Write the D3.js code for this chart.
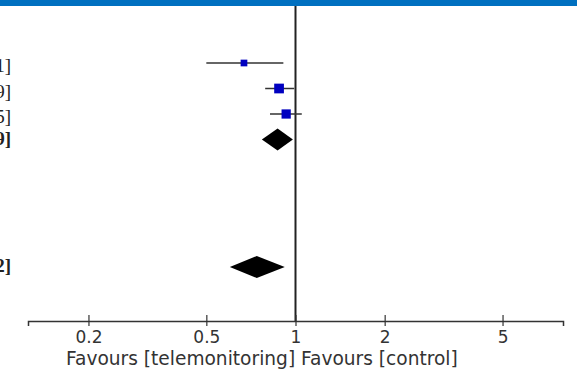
<!DOCTYPE html>
<html>
<head>
<meta charset="utf-8">
<script src="https://cdn.jsdelivr.net/npm/d3@7"></script>
<style>
  html, body { margin: 0; padding: 0; background: #fff; }
  svg { display: block; }
</style>
</head>
<body>
<svg id="chart" width="577" height="375"></svg>
<script>
// study rows (row index in the plot, odds ratio, CI, weight)
var studyRows = [0, 1, 2];
var studyOR = [0.67, 0.88, 0.93];
var studyLo = [0.50, 0.79, 0.82];
var studyHi = [0.91, 0.99, 1.05];
var studyWeight = [20, 42, 38];
var studyText = ["0.67 [0.50, 0.91]", "0.88 [0.79, 0.99]", "0.93 [0.82, 1.05]"];

// pooled estimates (diamonds)
var totalRows = [3, 8];
var totalOR = [0.87, 0.74];
var totalLo = [0.77, 0.60];
var totalHi = [0.98, 0.92];
var totalText = ["0.87 [0.77, 0.99]", "0.74 [0.60, 0.92]"];

var tickValues = [0.2, 0.5, 1, 2, 5];
var favourText = "Favours [telemonitoring] Favours [control]";

var svg = d3.select("#chart");

var x = d3.scaleLog().domain([0.125, 8]).range([28, 563]);
var y = d3.scaleLinear().domain([0, 8]).range([63, 267]);
var size = d3.scaleSqrt().domain([0, 100]).range([0, 15]);
var axisY = 321;

// header strip
svg.append("rect")
    .attr("x", 0).attr("y", 0)
    .attr("width", 577).attr("height", 6)
    .attr("fill", "#0070c0");

// line of no effect
svg.append("line")
    .attr("x1", x(1)).attr("x2", x(1))
    .attr("y1", 6).attr("y2", axisY)
    .attr("stroke", "#222")
    .attr("stroke-width", 2);

// CI text (mostly cut off at the left edge, as in the source)
var labels = svg.append("g")
    .attr("font-family", "Liberation Serif, serif")
    .attr("font-size", 19)
    .attr("fill", "#222")
    .attr("text-anchor", "end");

studyRows.forEach(function(r, i) {
  labels.append("text")
      .attr("x", 11).attr("y", y(r) + 9)
      .text(studyText[i]);
});
totalRows.forEach(function(r, i) {
  labels.append("text")
      .attr("x", 11).attr("y", y(r) + 5)
      .attr("font-weight", "bold")
      .text(totalText[i]);
});

// study CIs and squares
var studies = svg.append("g");
studyRows.forEach(function(r, i) {
  studies.append("line")
      .attr("x1", x(studyLo[i])).attr("x2", x(studyHi[i]))
      .attr("y1", y(r)).attr("y2", y(r))
      .attr("stroke", "#333")
      .attr("stroke-width", 1.5);
  var s = size(studyWeight[i]);
  studies.append("rect")
      .attr("x", x(studyOR[i]) - s / 2)
      .attr("y", y(r) - s / 2)
      .attr("width", s).attr("height", s)
      .attr("fill", "#0000c0");
});

// pooled diamonds
totalRows.forEach(function(r, i) {
  var cy = y(r), h = 11;
  svg.append("path")
      .attr("d", "M" + x(totalLo[i]) + "," + cy +
                 "L" + x(totalOR[i]) + "," + (cy - h) +
                 "L" + x(totalHi[i]) + "," + cy +
                 "L" + x(totalOR[i]) + "," + (cy + h) + "Z")
      .attr("fill", "#000");
});

// axis
var axis = svg.append("g")
    .attr("transform", "translate(0," + axisY + ")")
    .call(d3.axisBottom(x)
        .tickValues(tickValues)
        .tickFormat(d3.format("~g"))
        .tickSizeOuter(0)
        .tickSize(5)
        .tickPadding(5));

axis.select(".domain").attr("stroke", "#333").attr("stroke-width", 1.5);
axis.selectAll(".tick line")
    .attr("y1", -6).attr("y2", 5)
    .attr("stroke", "#333").attr("stroke-width", 1.2);
axis.selectAll(".tick text")
    .attr("font-family", "DejaVu Sans, sans-serif")
    .attr("font-size", 17)
    .attr("fill", "#333");

// favours label
svg.append("text")
    .attr("x", 66).attr("y", 365)
    .attr("font-family", "DejaVu Sans, sans-serif")
    .attr("font-size", 18.6)
    .attr("fill", "#333")
    .text(favourText);
</script>
</body>
</html>
